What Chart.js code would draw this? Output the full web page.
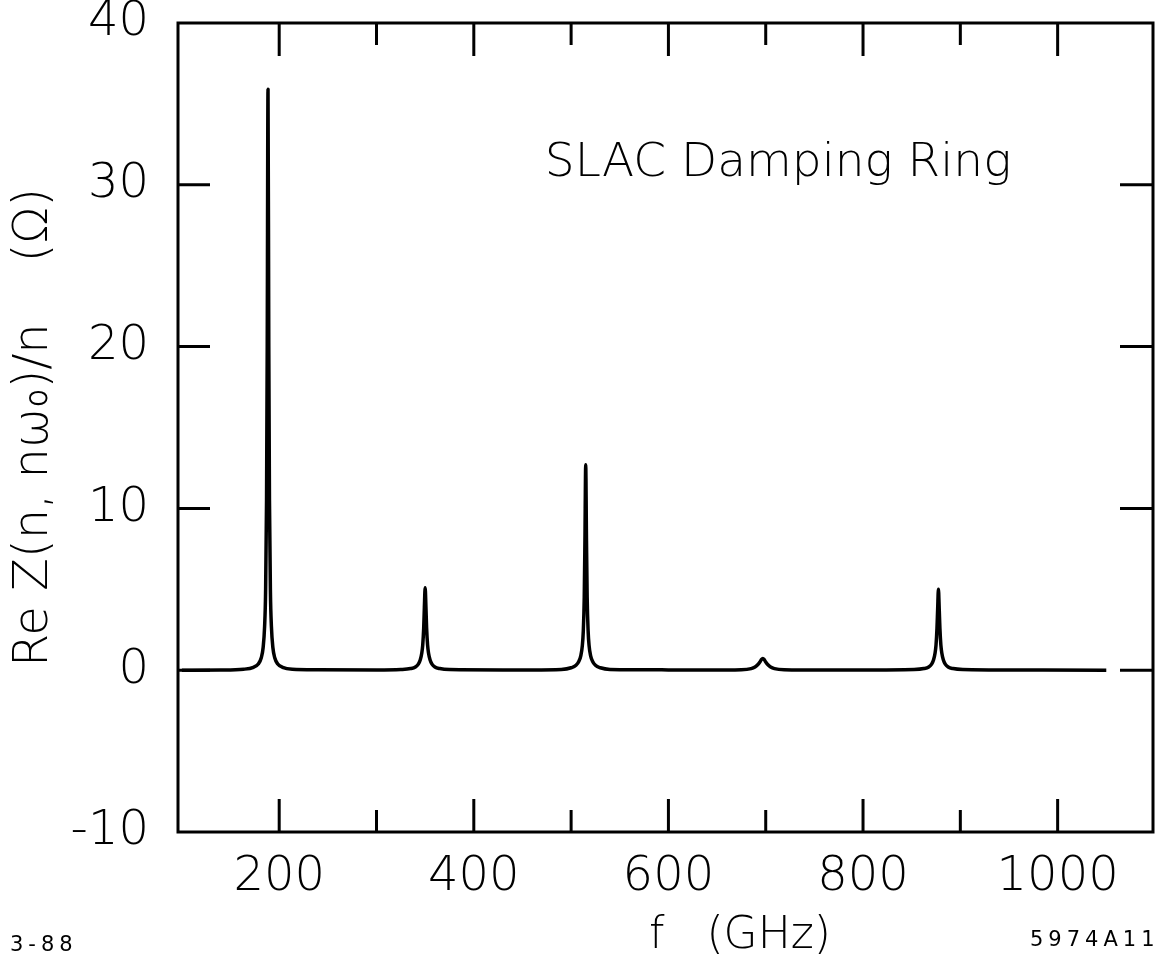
<!DOCTYPE html>
<html>
<head>
<meta charset="utf-8">
<script src="https://cdn.jsdelivr.net/npm/chart.js@4/dist/chart.umd.min.js"></script>
<style>
  body { margin: 0; background: #fff; }
  #wrap { width: 1163px; height: 969px; }
</style>
</head>
<body>
<div id="wrap"><canvas id="chart"></canvas></div>
<script>
// frequency (GHz) and Re Z/n (Ohm), peak by peak
const freqGHz = [
  100, 140,
  163.5, 173.5, 178.5, 181.5, 183.5, 185.0, 186.0, 187.0, 187.7, 188.5, 189.3, 190.0, 191.0, 192.0, 193.5, 195.5, 198.5, 203.5, 213.5,
  240, 300,
  325, 335, 340, 343, 345, 346.5, 347.5, 348.5, 349.2, 350, 350.8, 351.5, 352.5, 353.5, 355, 357, 360, 365, 375,
  430, 460,
  490, 500, 505, 508, 510, 511.5, 512.5, 513.5, 514.2, 515, 515.8, 516.5, 517.5, 518.5, 520, 522, 525, 530, 540,
  600, 640,
  675, 685, 689, 692, 694, 695.5, 697, 698.5, 700, 702, 705, 709, 719,
  760, 800,
  852.5, 862.5, 867.5, 870.5, 872.5, 874, 875, 876, 876.7, 877.5, 878.3, 879, 880, 881, 882.5, 884.5, 887.5, 892.5, 902.5,
  960, 1050
];
const reZ = [
  0, 0.01,
  0.06, 0.18, 0.38, 0.75, 1.4, 2.7, 4.8, 10.5, 20, 35.9, 20, 10.5, 4.8, 2.7, 1.4, 0.75, 0.38, 0.18, 0.06,
  0.025, 0.01,
  0.04, 0.1, 0.2, 0.38, 0.65, 1.05, 1.55, 2.6, 3.9, 5.1, 3.9, 2.6, 1.55, 1.05, 0.65, 0.38, 0.2, 0.1, 0.04,
  0.02, 0.02,
  0.05, 0.15, 0.3, 0.55, 0.9, 1.5, 2.4, 4.5, 8, 12.7, 8, 4.5, 2.4, 1.5, 0.9, 0.55, 0.3, 0.15, 0.05,
  0.02, 0.01,
  0.03, 0.1, 0.2, 0.35, 0.5, 0.65, 0.72, 0.65, 0.5, 0.35, 0.2, 0.1, 0.03,
  0.01, 0.01,
  0.04, 0.1, 0.2, 0.38, 0.65, 1.05, 1.55, 2.6, 3.8, 5.0, 3.8, 2.6, 1.55, 1.05, 0.65, 0.38, 0.2, 0.1, 0.04,
  0.01, 0
];
const xMajorTicks = [200, 400, 600, 800, 1000];
const xMinorTicks = [300, 500, 700, 900];
const yTicks = [0, 10, 20, 30];

const FONT = "'DejaVu Sans', sans-serif";

// frame, inward tick marks and the loose text on the sheet
const frameAndTicks = {
  id: 'frameAndTicks',
  afterDatasetsDraw(chart) {
    const { ctx, chartArea: a, scales: { x, y } } = chart;
    ctx.save();
    ctx.strokeStyle = '#000';
    ctx.lineWidth = 3;
    ctx.strokeRect(a.left, a.top, a.right - a.left, a.bottom - a.top);

    ctx.beginPath();
    xMajorTicks.forEach(v => {
      const px = x.getPixelForValue(v);
      ctx.moveTo(px, a.bottom); ctx.lineTo(px, a.bottom - 33);
      ctx.moveTo(px, a.top); ctx.lineTo(px, a.top + 33);
    });
    xMinorTicks.forEach(v => {
      const px = x.getPixelForValue(v);
      ctx.moveTo(px, a.bottom); ctx.lineTo(px, a.bottom - 22);
      ctx.moveTo(px, a.top); ctx.lineTo(px, a.top + 22);
    });
    yTicks.forEach(v => {
      const py = y.getPixelForValue(v);
      ctx.moveTo(a.left, py); ctx.lineTo(a.left + 32, py);
      ctx.moveTo(a.right, py); ctx.lineTo(a.right - 33, py);
    });
    ctx.stroke();

    ctx.fillStyle = '#000';
    ctx.textBaseline = 'middle';
    ctx.textAlign = 'left';
    ctx.font = `200 47px ${FONT}`;
    ctx.fillText('SLAC Damping Ring', x.getPixelForValue(473), y.getPixelForValue(31.3));

    ctx.textAlign = 'center';
    ctx.font = `200 44px ${FONT}`;
    ctx.fillText('f   (GHz)', 740, 937);

    ctx.textAlign = 'left';
    ctx.font = `21px ${FONT}`;
    ctx.letterSpacing = '5px';
    ctx.fillText('3-88', 10, 946);
    ctx.fillText('5974A11', 1030, 941);
    ctx.restore();
  }
};

new Chart(document.getElementById('chart'), {
  type: 'line',
  data: {
    datasets: [{
      data: freqGHz.map((f, i) => ({ x: f, y: reZ[i] })),
      borderColor: '#000',
      borderWidth: 3.5,
      borderJoinStyle: 'round',
      pointRadius: 0,
      cubicInterpolationMode: 'monotone',
      fill: false
    }]
  },
  options: {
    responsive: true,
    maintainAspectRatio: false,
    animation: false,
    layout: { padding: { top: 23, right: 10, left: 0, bottom: 0 } },
    plugins: { legend: { display: false }, tooltip: { enabled: false } },
    scales: {
      x: {
        type: 'linear',
        min: 96,
        max: 1098,
        grid: { display: false },
        border: { display: false },
        afterBuildTicks: s => { s.ticks = xMajorTicks.map(v => ({ value: v })); },
        afterFit: s => { s.height = 137; s.paddingLeft = 0; s.paddingRight = 0; },
        ticks: {
          color: '#000',
          autoSkip: false,
          maxRotation: 0,
          padding: 9,
          callback: v => String(v),
          font: { family: FONT, size: 48, weight: '200' }
        }
      },
      y: {
        min: -10,
        max: 40,
        grid: { display: false },
        border: { display: false },
        afterFit: s => { s.width = 178; s.paddingTop = 0; s.paddingBottom = 0; },
        ticks: {
          color: '#000',
          stepSize: 10,
          padding: 21,
          font: { family: FONT, size: 48, weight: '200' }
        },
        title: {
          display: true,
          text: 'Re Z(n, nω₀)/n    (Ω)',
          color: '#000',
          padding: { top: 6, bottom: 0 },
          font: { family: FONT, size: 48, weight: '200' }
        }
      }
    }
  },
  plugins: [frameAndTicks]
});
</script>
</body>
</html>
